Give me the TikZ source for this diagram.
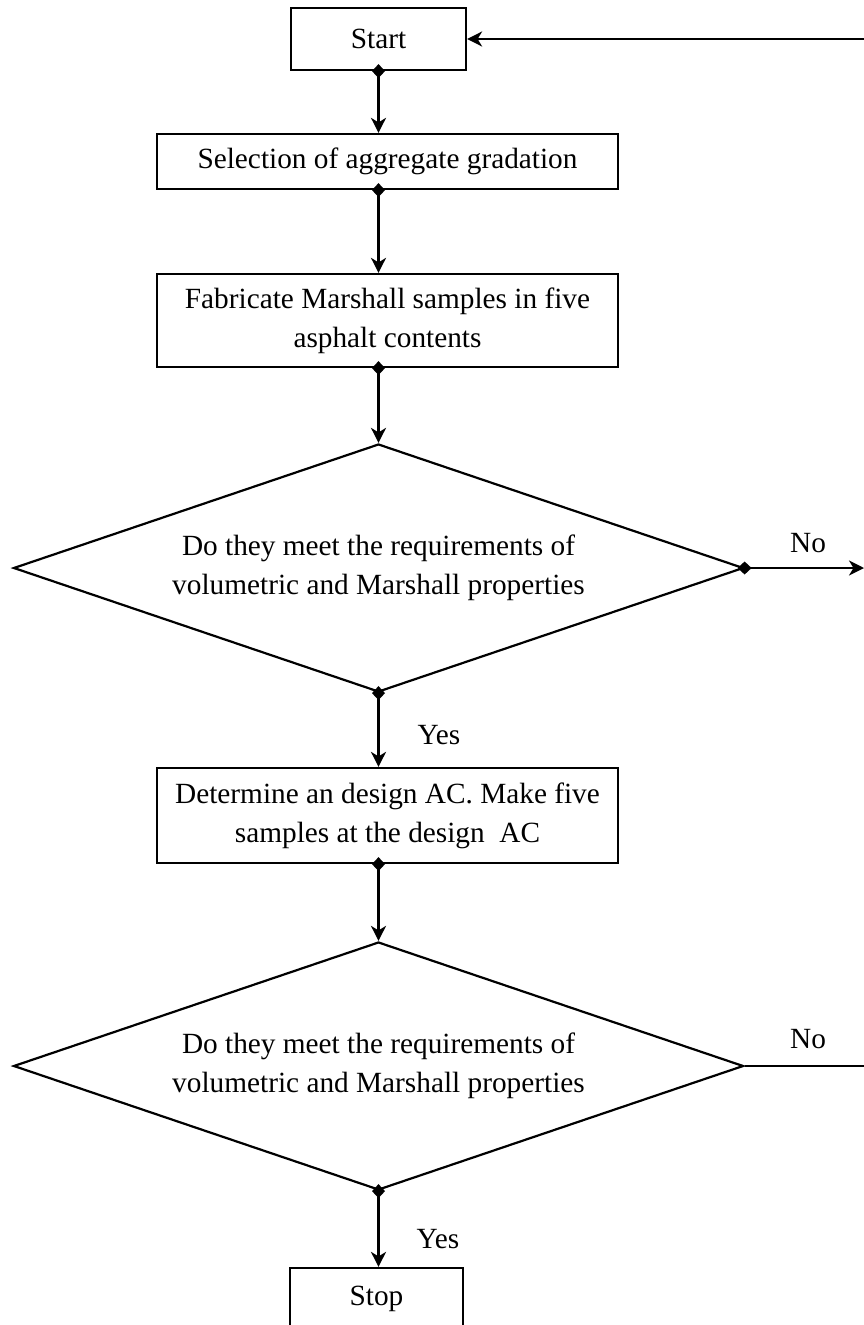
\documentclass[tikz,border=0pt]{standalone}
\usepackage{fontspec}
\setmainfont{Liberation Serif}
\usetikzlibrary{shapes.geometric,arrows.meta}
\tikzset{
  txt/.style={font=\fontsize{29.3pt}{39pt}\selectfont, align=center},
  bx/.style={txt, draw, line width=2.2pt, inner sep=0pt},
  dia/.style={txt, draw, line width=2.2pt, diamond, aspect=2.95, inner sep=0pt, minimum width=730pt, minimum height=248pt},
  lbl/.style={txt, inner sep=0pt},
  flow/.style={line width=2.2pt, {Diamond[length=14pt,width=13pt]}-{Stealth[length=15pt,width=15pt,inset=4.5pt]}, shorten <=-7pt},
  plainline/.style={line width=2.2pt},
  backarrow/.style={line width=2.2pt, -{Stealth[length=15pt,width=15pt,inset=4.5pt]}}
}
\begin{document}
\begin{tikzpicture}[x=1pt,y=-1pt]
\useasboundingbox (0,0) rectangle (864,1325);
\clip (0,0) rectangle (864,1325);
\node[bx, minimum width=175pt, minimum height=62pt] (start) at (378.5,39) {Start};
\node[bx, minimum width=461pt, minimum height=55pt] (sel) at (387.5,161.5) {Selection of aggregate gradation};
\node[bx, minimum width=461pt, minimum height=93pt] (fab) at (387.5,320.5) {Fabricate Marshall samples in five\\asphalt contents};
\node[dia] (d1) at (378.5,568) {Do they meet the requirements of\\volumetric and Marshall properties};
\node[bx, minimum width=461pt, minimum height=95pt] (det) at (387.5,815.5) {Determine an design AC. Make five\\samples at the design\ \ AC};
\node[dia] (d2) at (378.5,1066) {Do they meet the requirements of\\volumetric and Marshall properties};
\node[bx, minimum width=173pt, minimum height=62pt] (stop) at (376.5,1299) {Stop};
\node[lbl, anchor=base] (y1) at (439,744) {Yes};
\node[lbl, anchor=base] (y2) at (438,1248) {Yes};
\node[lbl, anchor=base] (n1) at (808,552) {No};
\node[lbl, anchor=base] (n2) at (808,1048) {No};
\coordinate (r0) at (864,39);
\coordinate (r1) at (864,568);
\coordinate (r2) at (864,1066);
\draw[flow] (start.south) -- (sel.north -| start.south);
\draw[flow] (sel.south -| start.south) -- (fab.north -| start.south);
\draw[flow] (fab.south -| d1.north) -- (d1.north);
\draw[flow] (d1.south) -- (det.north -| d1.south);
\draw[flow] (det.south -| d1.south) -- (d2.north);
\draw[flow] (d2.south) -- (stop.north -| d2.south);
\draw[flow] (d1.east) -- (r1);
\draw[plainline] (d2.east) -- (r2);
\draw[backarrow] (r0) -- (start.east);
\end{tikzpicture}
\end{document}
